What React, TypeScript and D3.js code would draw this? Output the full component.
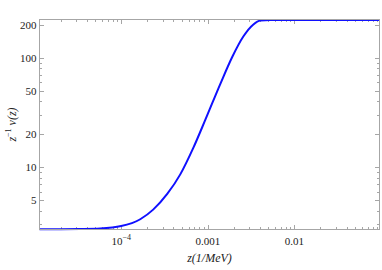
import React from 'react'
import { scaleLog, line, curveMonotoneX } from 'd3'

// curve: z (1/MeV) and z^-1 nu(z)
const zValues = [1.14e-5, 2e-5, 3.36e-5, 5.71e-5, 1e-4, 1.66e-4, 2.34e-4, 3.4e-4, 4.81e-4, 6.8e-4, 9.35e-4, 1.4e-3, 1.92e-3, 2.57e-3, 3.36e-3, 4.05e-3, 5.28e-3, 0.01, 0.03, 0.096]
const nuValues = [2.72, 2.72, 2.73, 2.76, 2.9, 3.35, 4.1, 5.7, 8.6, 15, 27, 58, 102, 156, 201, 218, 221, 221, 221, 221]

const xMajor = [1e-4, 1e-3, 1e-2]
const xMajorLabels = ['10', '0.001', '0.01']
const yMajor = [5, 10, 20, 50, 100, 200]
const yMajorLabels = ['5', '10', '20', '50', '100', '200']

const W = 382, H = 270
const left = 39.5, right = 379.5, top = 19.5, bottom = 229.5
const frameColor = '#a6a6a6'
const font = '"Liberation Serif", "DejaVu Serif", serif'

export default function App() {
    const x = scaleLog().domain([1.14e-5, 0.096]).range([left, right])
    const y = scaleLog().domain([2.70, 223]).range([bottom, top])

    const xMinor: number[] = []
    for (const d of [1e-5, 1e-4, 1e-3, 1e-2]) {
        for (let k = 2; k <= 9; k++) {
            const v = d * k
            if (v > x.domain()[0] && v < x.domain()[1]) xMinor.push(v)
        }
    }
    const yMinor: number[] = []
    for (const d of [1, 10, 100]) {
        for (let k = 2; k <= 9; k++) {
            const v = d * k
            if (v > y.domain()[0] && v < y.domain()[1] && !yMajor.includes(v)) yMinor.push(v)
        }
    }

    const path = line<number>()
        .x((d) => x(d))
        .y((_, i) => y(nuValues[i]))
        .curve(curveMonotoneX)(zValues)

    const big = 4.5, small = 2.5

    return (
        <svg width={W} height={H} style={{ position: 'absolute', left: 0, top: 0 }}>
            <defs>
                <clipPath id="plotclip">
                    <rect x={left - 1} y={top - 1.5} width={right - left + 2} height={bottom - top + 3} />
                </clipPath>
            </defs>
            <rect x={0} y={0} width={W} height={H} fill="#fff" />

            {/* ticks, all pointing inward like Mathematica's frame */}
            <g stroke={frameColor} strokeWidth={1}>
                {xMajor.map((t) => (
                    <g key={'xm' + t}>
                        <line x1={Math.round(x(t)) + 0.5} x2={Math.round(x(t)) + 0.5} y1={bottom} y2={bottom - big} />
                        <line x1={Math.round(x(t)) + 0.5} x2={Math.round(x(t)) + 0.5} y1={top} y2={top + big} />
                    </g>
                ))}
                {xMinor.map((t) => (
                    <g key={'xn' + t}>
                        <line x1={Math.round(x(t)) + 0.5} x2={Math.round(x(t)) + 0.5} y1={bottom} y2={bottom - small} />
                        <line x1={Math.round(x(t)) + 0.5} x2={Math.round(x(t)) + 0.5} y1={top} y2={top + small} />
                    </g>
                ))}
                {yMajor.map((t) => (
                    <g key={'ym' + t}>
                        <line y1={Math.round(y(t)) + 0.5} y2={Math.round(y(t)) + 0.5} x1={left} x2={left + big} />
                        <line y1={Math.round(y(t)) + 0.5} y2={Math.round(y(t)) + 0.5} x1={right} x2={right - big} />
                    </g>
                ))}
                {yMinor.map((t) => (
                    <g key={'yn' + t}>
                        <line y1={Math.round(y(t)) + 0.5} y2={Math.round(y(t)) + 0.5} x1={left} x2={left + small} />
                        <line y1={Math.round(y(t)) + 0.5} y2={Math.round(y(t)) + 0.5} x1={right} x2={right - small} />
                    </g>
                ))}
            </g>

            <path d={path ?? ''} fill="none" stroke="#1010ff" strokeWidth={2} clipPath="url(#plotclip)" />

            <rect x={left} y={top} width={right - left} height={bottom - top} fill="none" stroke={frameColor} strokeWidth={1} />

            <g fontFamily={font} fontSize={11} fill="#222">
                {xMajor.map((t, i) => (
                    <text key={'xl' + t} x={x(t)} y={bottom + 15} textAnchor="middle">
                        {xMajorLabels[i]}
                        {i === 0 && <tspan fontSize={8} dy={-5}>−4</tspan>}
                    </text>
                ))}
                {yMajor.map((t, i) => (
                    <text key={'yl' + t} x={left - 3} y={y(t) + 4} textAnchor="end">{yMajorLabels[i]}</text>
                ))}
            </g>

            <text x={(left + right) / 2} y={262} textAnchor="middle" fontFamily={font} fontSize={12} fontStyle="italic" fill="#222">
                z(1/MeV)
            </text>
            <text transform={`translate(16, ${(top + bottom) / 2}) rotate(-90)`} textAnchor="middle" fontFamily={font} fontSize={12} fontStyle="italic" fill="#222">
                z<tspan fontSize={8} dy={-5} fontStyle="normal">−1</tspan><tspan dy={5}> ν(z)</tspan>
            </text>
        </svg>
    )
}
